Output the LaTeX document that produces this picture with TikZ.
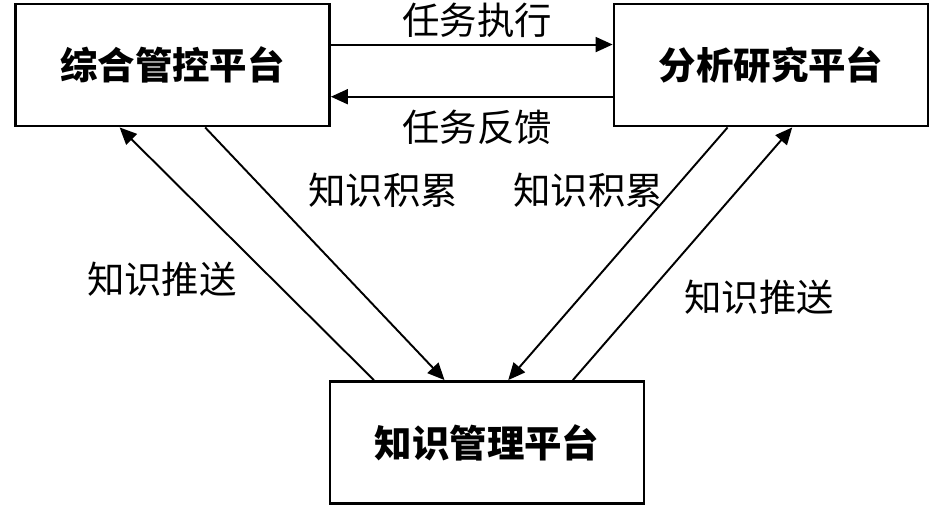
\documentclass[tikz,border=0pt]{standalone}
\usepackage{fontspec}
\newfontfamily\cjk{Noto Sans CJK SC}
\usetikzlibrary{positioning, calc, arrows.meta}

\begin{document}
\begin{tikzpicture}[
  %% caixas das plataformas
  pbox/.style={
    rectangle, draw=black, line width=1.6pt,
    minimum width=6.28cm, minimum height=2.44cm,
    align=center, fill=white,
    font=\cjk\bfseries\fontsize{21.3}{24}\selectfont
  },
  %% setas
  arr/.style={-{Triangle[length=0.34cm,width=0.3cm]}, line width=1.1pt},
  %% rotulos das setas
  lbl/.style={font=\cjk\fontsize{21.3}{24}\selectfont, inner sep=0pt}
]

\useasboundingbox (0,0) rectangle (18.9,-10.12);

%% ================================================================
%% PLATAFORMAS
%% ================================================================
\node[pbox] (zonghe) at (3.45,-1.30)  {综合管控平台};
\node[pbox] (fenxi)  at (15.42,-1.30) {分析研究平台};
\node[pbox] (zhishi) at (9.74,-8.85)  {知识管理平台};

%% pontos de saida / chegada nas bordas
\coordinate (zr1) at ($(zonghe.north east)!0.336!(zonghe.south east)$);
\coordinate (zr2) at ($(zonghe.north east)!0.754!(zonghe.south east)$);
\coordinate (fl1) at ($(fenxi.north west)!0.336!(fenxi.south west)$);
\coordinate (fl2) at ($(fenxi.north west)!0.754!(fenxi.south west)$);

\coordinate (zb1) at ($(zonghe.south west)!0.333!(zonghe.south east)$);
\coordinate (zb2) at ($(zonghe.south west)!0.603!(zonghe.south east)$);
\coordinate (fb1) at ($(fenxi.south west)!0.363!(fenxi.south east)$);
\coordinate (fb2) at ($(fenxi.south west)!0.567!(fenxi.south east)$);

\coordinate (kt1) at ($(zhishi.north west)!0.143!(zhishi.north east)$);
\coordinate (kt2) at ($(zhishi.north west)!0.366!(zhishi.north east)$);
\coordinate (kt3) at ($(zhishi.north west)!0.567!(zhishi.north east)$);
\coordinate (kt4) at ($(zhishi.north west)!0.771!(zhishi.north east)$);

%% ================================================================
%% SETAS ENTRE AS PLATAFORMAS
%% ================================================================
\draw[arr] (zr1) -- (fl1);
\draw[arr] (fl2) -- (zr2);

\draw[arr] (kt1) -- (zb1);
\draw[arr] (zb2) -- (kt2);
\draw[arr] (fb1) -- (kt3);
\draw[arr] (kt4) -- (fb2);

%% ================================================================
%% ROTULOS
%% ================================================================
\node[lbl] (exec)  at (9.54,-0.40) {任务执行};
\node[lbl] (feed)  at (9.54,-2.54) {任务反馈};
\node[lbl] (acc1)  at (7.66,-3.80) {知识积累};
\node[lbl] (acc2)  at (11.76,-3.80) {知识积累};
\node[lbl] (push1) at (3.24,-5.58) {知识推送};
\node[lbl] (push2) at (15.18,-5.94) {知识推送};

\end{tikzpicture}
\end{document}
